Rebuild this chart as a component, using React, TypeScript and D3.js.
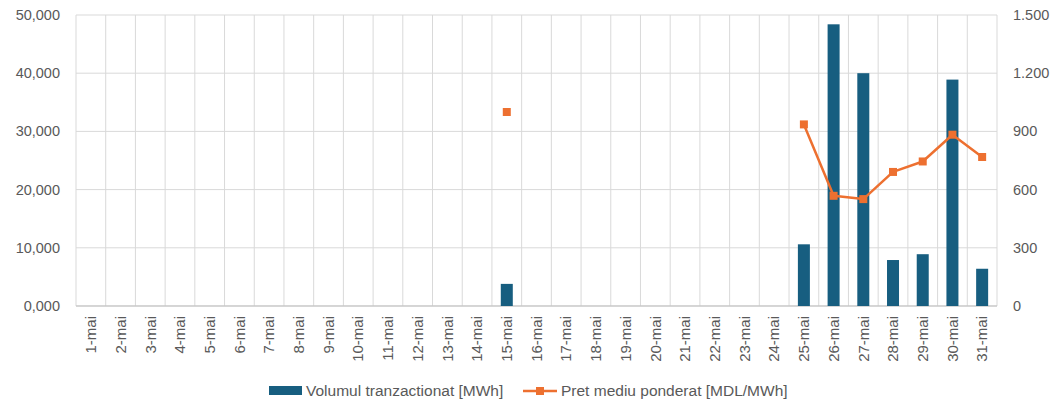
import React from 'react';
import * as d3 from 'd3';

const days = d3.range(1, 32).map(d => `${d}-mai`);
const volume: (number | null)[] = [
  null, null, null, null, null, null, null, null, null, null, null, null, null, null, 3800,
  null, null, null, null, null, null, null, null, null, 10600, 48400, 40000, 7900, 8900, 38900, 6400,
];
const price: (number | null)[] = [
  null, null, null, null, null, null, null, null, null, null, null, null, null, null, 1000,
  null, null, null, null, null, null, null, null, null, 936, 568, 551, 691, 745, 883, 768,
];
const leftTicks = [0, 10000, 20000, 30000, 40000, 50000];
const rightTicks = [0, 300, 600, 900, 1200, 1500];

export default function App() {
  const width = 1056;
  const height = 406;
  const margin = { top: 15, right: 59, bottom: 100, left: 76 };
  const innerWidth = width - margin.left - margin.right;
  const innerHeight = 306 - margin.top;
  const barColor = '#175e80';
  const lineColor = '#ed7030';
  const gridColor = '#d9d9d9';
  const textColor = '#595959';
  const font = '"Liberation Sans", Arial, sans-serif';

  const xScale = d3.scaleBand().domain(days).range([0, innerWidth]);
  const yLeft = d3.scaleLinear().domain([0, 50000]).range([innerHeight, 0]);
  const yRight = d3.scaleLinear().domain([0, 1500]).range([innerHeight, 0]);
  const barW = 12;

  const fmtLeft = (v: number) => d3.format(',')(v).replace(/^0$/, '0,000');
  const fmtRight = (v: number) => d3.format(',')(v).replace(',', '.');

  const cx = (i: number) => (xScale(days[i]) ?? 0) + xScale.bandwidth() / 2;
  const lineGen = d3.line<number | null>()
    .defined(d => d !== null)
    .x((_, i) => cx(i))
    .y(d => yRight(d as number));

  return (
    <svg width={width} height={height} style={{ position: 'absolute', left: 0, top: 0 }}>
      <rect width={width} height={height} fill="#fff" />
      <g transform={`translate(${margin.left},${margin.top})`}>
        {leftTicks.map(t => (
          <line key={'h' + t} x1={0} x2={innerWidth} y1={yLeft(t)} y2={yLeft(t)} stroke={gridColor} strokeWidth={1} />
        ))}
        {days.map((d, i) => (
          <line key={'v' + d} x1={xScale(d)} x2={xScale(d)} y1={0} y2={innerHeight} stroke={gridColor} strokeWidth={1} />
        ))}
        <line x1={innerWidth} x2={innerWidth} y1={0} y2={innerHeight} stroke={gridColor} />
        <line x1={0} x2={innerWidth} y1={innerHeight} y2={innerHeight} stroke="#bfbfbf" />

        {volume.map((v, i) => v === null ? null : (
          <rect key={'b' + i} x={cx(i) - barW / 2} y={yLeft(v)} width={barW} height={innerHeight - yLeft(v)} fill={barColor} />
        ))}

        <path d={lineGen(price) ?? ''} fill="none" stroke={lineColor} strokeWidth={2.5} strokeLinejoin="round" />
        {price.map((p, i) => p === null ? null : (
          <rect key={'m' + i} x={cx(i) - 4} y={yRight(p) - 4} width={8} height={8} fill={lineColor} />
        ))}

        {leftTicks.map(t => (
          <text key={'lt' + t} x={-16} y={yLeft(t)} dy="0.35em" textAnchor="end" fontSize={14.5} fill={textColor} fontFamily={font}>{fmtLeft(t)}</text>
        ))}
        {rightTicks.map(t => (
          <text key={'rt' + t} x={innerWidth + 16} y={yRight(t)} dy="0.35em" textAnchor="start" fontSize={14.5} fill={textColor} fontFamily={font}>{fmtRight(t)}</text>
        ))}
        {days.map((d, i) => (
          <text key={'xl' + d} transform={`translate(${cx(i)},${innerHeight + 10}) rotate(-90)`} dy="0.35em" textAnchor="end" fontSize={15} fill={textColor} fontFamily={font}>{d}</text>
        ))}
      </g>
      <g fontFamily={font} fontSize={15.5} fill={textColor}>
        <rect x={269} y={386} width={33} height={9} fill={barColor} />
        <text x={306} y={391} dy="0.35em">Volumul tranzactionat [MWh]</text>
        <line x1={523} x2={557} y1={391} y2={391} stroke={lineColor} strokeWidth={2.5} />
        <rect x={536} y={387} width={8} height={8} fill={lineColor} />
        <text x={561} y={391} dy="0.35em">Pret mediu ponderat [MDL/MWh]</text>
      </g>
    </svg>
  );
}
